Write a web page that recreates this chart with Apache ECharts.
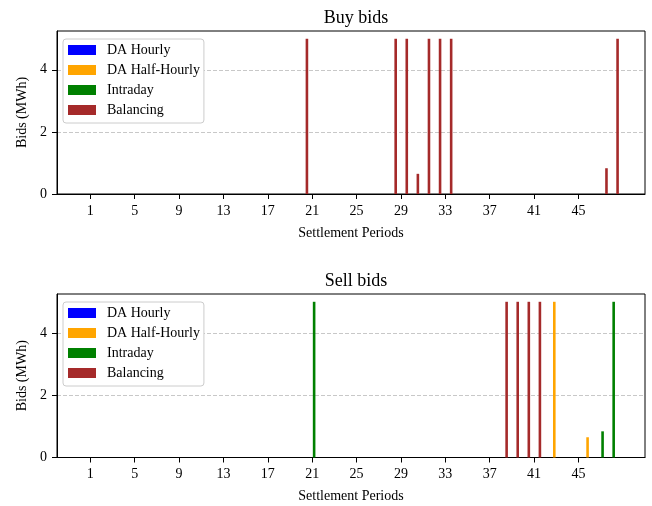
<!DOCTYPE html>
<html>
<head>
<meta charset="utf-8">
<script src="https://cdn.jsdelivr.net/npm/echarts@6/dist/echarts.min.js"></script>
<style>html,body{margin:0;padding:0;background:#fff;}#chart{width:652px;height:506px;}</style>
</head>
<body>
<div id="chart"></div>
<script>
// Settlement periods (x categories)
const periods = [1,2,3,4,5,6,7,8,9,10,11,12,13,14,15,16,17,18,19,20,21,22,23,24,
                 25,26,27,28,29,30,31,32,33,34,35,36,37,38,39,40,41,42,43,44,45,46,47,48];
const xTickLabels = [1,5,9,13,17,21,25,29,33,37,41,45];
const yTickLabels = [0,2,4];
const seriesNames = ['DA Hourly','DA Half-Hourly','Intraday','Balancing'];

// Buy bids (MWh) per settlement period (10 per line)
const buyDAHourly = [0,0,0,0,0,0,0,0,0,0, 0,0,0,0,0,0,0,0,0,0,
                     0,0,0,0,0,0,0,0,0,0, 0,0,0,0,0,0,0,0,0,0, 0,0,0,0,0,0,0,0];
const buyDAHalfHourly = [0,0,0,0,0,0,0,0,0,0, 0,0,0,0,0,0,0,0,0,0,
                     0,0,0,0,0,0,0,0,0,0, 0,0,0,0,0,0,0,0,0,0, 0,0,0,0,0,0,0,0];
const buyIntraday = [0,0,0,0,0,0,0,0,0,0, 0,0,0,0,0,0,0,0,0,0,
                     0,0,0,0,0,0,0,0,0,0, 0,0,0,0,0,0,0,0,0,0, 0,0,0,0,0,0,0,0];
const buyBalancing = [0,0,0,0,0,0,0,0,0,0, 0,0,0,0,0,0,0,0,0,5,
                     0,0,0,0,0,0,0,5,5,0.65, 5,5,5,0,0,0,0,0,0,0, 0,0,0,0,0,0,0.83,5];

// Sell bids (MWh) per settlement period (10 per line)
const sellDAHourly = [0,0,0,0,0,0,0,0,0,0, 0,0,0,0,0,0,0,0,0,0,
                     0,0,0,0,0,0,0,0,0,0, 0,0,0,0,0,0,0,0,0,0, 0,0,0,0,0,0,0,0];
const sellDAHalfHourly = [0,0,0,0,0,0,0,0,0,0, 0,0,0,0,0,0,0,0,0,0,
                     0,0,0,0,0,0,0,0,0,0, 0,0,0,0,0,0,0,0,0,0, 0,0,5,0,0,0.65,0,0];
const sellIntraday = [0,0,0,0,0,0,0,0,0,0, 0,0,0,0,0,0,0,0,0,0,
                     5,0,0,0,0,0,0,0,0,0, 0,0,0,0,0,0,0,0,0,0, 0,0,0,0,0,0,0.84,5];
const sellBalancing = [0,0,0,0,0,0,0,0,0,0, 0,0,0,0,0,0,0,0,0,0,
                     0,0,0,0,0,0,0,0,0,0, 0,0,0,0,0,0,0,5,5,5, 5,0,0,0,0,0,0,0];

const colors = ['#0000ff','#ffa500','#008000','#a52a2a'];
const FONT = 'Liberation Serif';

const chart = echarts.init(document.getElementById('chart'), null, {renderer:'canvas'});

function xAxis(gi){
  return {
    gridIndex: gi, type:'value', min:-2, max:51,
    name:'Settlement Periods', nameLocation:'middle', nameGap:32,
    nameTextStyle:{fontFamily:FONT,fontSize:14,color:'#000'},
    axisLine:{show:true,onZero:false,lineStyle:{color:'#000',width:1}},
    axisTick:{show:true,length:5,lineStyle:{color:'#000'},customValues:xTickLabels},
    axisLabel:{fontFamily:FONT,fontSize:14,color:'#000',margin:10,customValues:xTickLabels},
    splitLine:{show:false}
  };
}
function yAxis(gi){
  return {
    gridIndex: gi, type:'value', min:0, max:5.25, interval:2,
    name:'Bids (MWh)', nameLocation:'middle', nameGap:28, nameRotate:90,
    nameTextStyle:{fontFamily:FONT,fontSize:14,color:'#000'},
    axisLine:{show:true,onZero:false,lineStyle:{color:'#000',width:1}},
    axisTick:{show:true,length:5,lineStyle:{color:'#000'},customValues:yTickLabels},
    axisLabel:{fontFamily:FONT,fontSize:14,color:'#000',margin:10,customValues:yTickLabels},
    splitLine:{show:true,lineStyle:{color:'#c8c8c8',type:[4,2],width:1}}
  };
}
function legend(top){
  return {
    data: seriesNames, orient:'vertical', left:63, top:top,
    itemWidth:28, itemHeight:10, itemGap:6, icon:'rect',
    padding:[4,4,6,5],
    backgroundColor:'#fff', borderColor:'#cccccc', borderWidth:1, borderRadius:3,
    textStyle:{fontFamily:FONT,fontSize:14,color:'#000',padding:[0,0,0,6]},
    selectedMode:false
  };
}

const buyVals = [buyDAHourly,buyDAHalfHourly,buyIntraday,buyBalancing];
const sellVals = [sellDAHourly,sellDAHalfHourly,sellIntraday,sellBalancing];
const series = [];
[buyVals, sellVals].forEach((set, gi) => {
  set.forEach((vals, si) => {
    series.push({
      name: seriesNames[si], type:'bar', xAxisIndex:gi, yAxisIndex:gi,
      data: periods.map((p,i)=>[p, vals[i]]),
      barWidth:2.6, barGap:'50%',
      itemStyle:{color:colors[si]},
      emphasis:{disabled:true}
    });
  });
});

chart.setOption({
  animation:false,
  backgroundColor:'#fff',
  title:[
    {text:'Buy bids', left:351, top:4, textAlign:'center',
     textStyle:{fontFamily:FONT,fontSize:18,fontWeight:'normal',color:'#000'}},
    {text:'Sell bids', left:351, top:267, textAlign:'center',
     textStyle:{fontFamily:FONT,fontSize:18,fontWeight:'normal',color:'#000'}}
  ],
  legend:[legend(39), legend(302)],
  grid:[
    {left:57, top:31, width:588, height:163, show:true, borderColor:'#000', borderWidth:1, containLabel:false},
    {left:57, top:294, width:588, height:163.5, show:true, borderColor:'#000', borderWidth:1, containLabel:false}
  ],
  xAxis:[xAxis(0), xAxis(1)],
  yAxis:[yAxis(0), yAxis(1)],
  series: series
});
</script>
</body>
</html>
